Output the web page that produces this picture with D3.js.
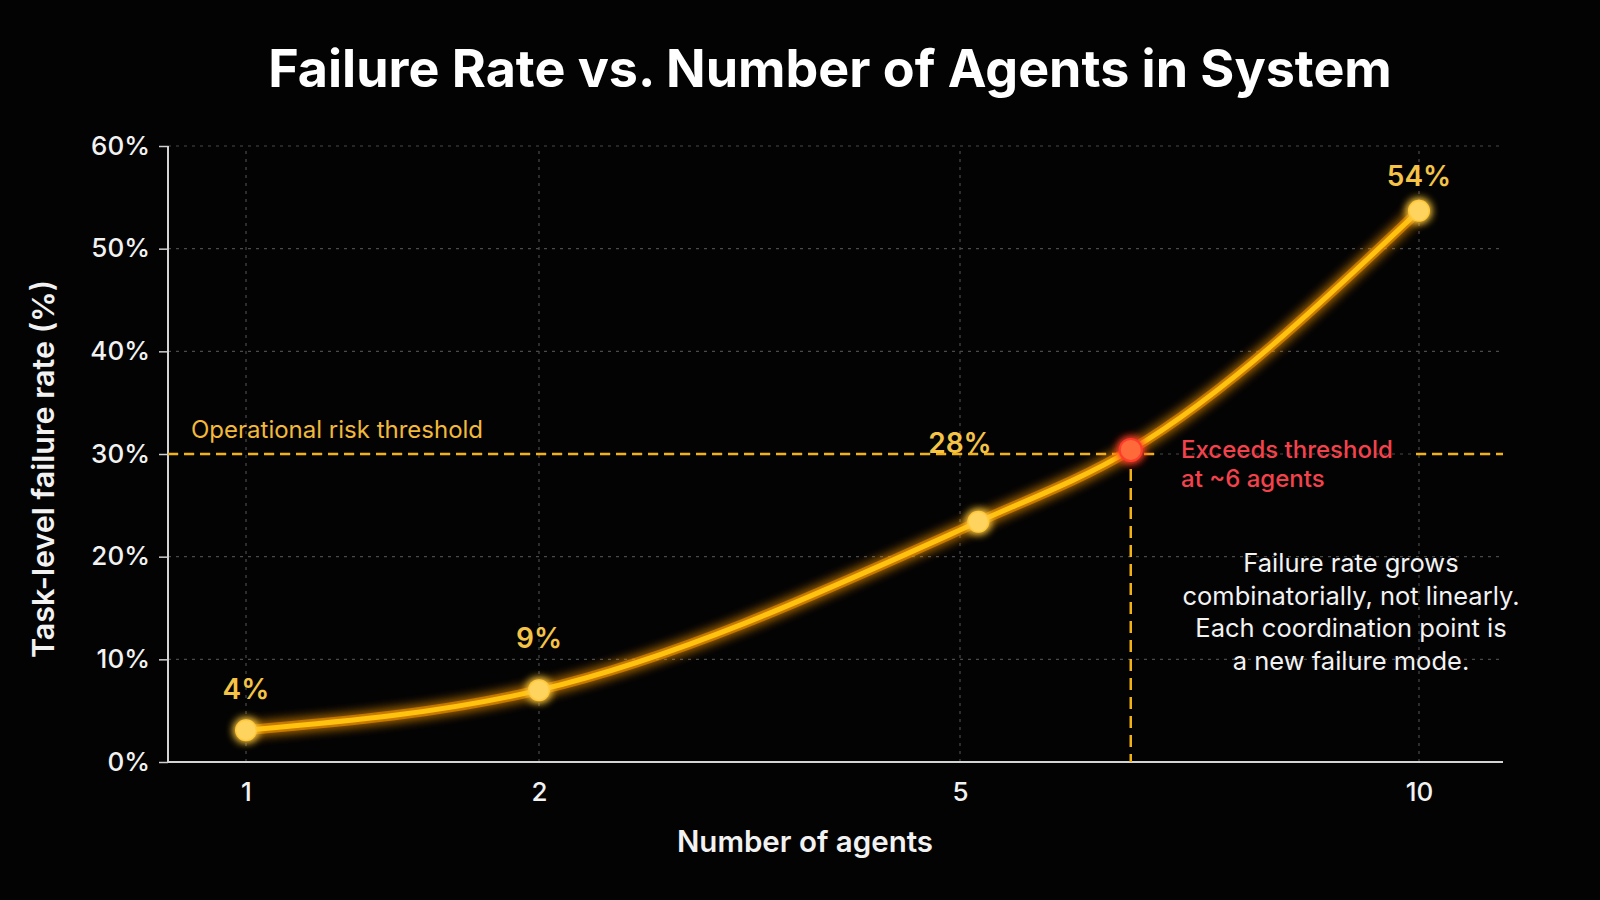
<!DOCTYPE html>
<html>
<head>
<meta charset="utf-8">
<script src="https://cdn.jsdelivr.net/npm/d3@7"></script>
<style>
  html, body { margin: 0; padding: 0; background: #030303; }
  svg { display: block; font-family: Inter, "Noto Sans", sans-serif; }
</style>
</head>
<body>
<svg id="chart" width="1600" height="900"></svg>
<script>
// data
let xTicks = [1, 2, 5, 10]
let yTicks = [0, 10, 20, 30, 40, 50, 60]
let agents = [1, 2, 5.2, 10]
let failRate = [3.1, 7.0, 23.4, 53.7]
let labelValues = [4, 9, 28, 54]
let threshold = 30
let crossAgents = 6.86
let crossRate = 30.4
let noteLines = ['Failure rate grows', 'combinatorially, not linearly.', 'Each coordination point is', 'a new failure mode.']
let crossLines = ['Exceeds threshold', 'at ~6 agents']

let margin = { left: 168, right: 97, top: 146, bottom: 138 }
let width = 1600, height = 900

let svg = d3.select('#chart')

svg.append('rect').attr('width', width).attr('height', height).attr('fill', '#030303')

let defs = svg.append('defs')
function glow(id, dev) {
    let f = defs.append('filter').attr('id', id)
        .attr('filterUnits', 'userSpaceOnUse')
        .attr('x', 0).attr('y', 0).attr('width', width).attr('height', height)
    f.append('feGaussianBlur').attr('in', 'SourceGraphic').attr('stdDeviation', dev).attr('result', 'b')
    let m = f.append('feMerge')
    m.append('feMergeNode').attr('in', 'b')
    m.append('feMergeNode').attr('in', 'b')
    m.append('feMergeNode').attr('in', 'SourceGraphic')
}
glow('glowLine', 6)
glow('glowDot', 5)

// x positions of 1, 2, 5, 10 are not on a plain linear or log scale in the source
let x = d3.scaleLinear().domain(xTicks).range([246, 539, 960, 1419])
let y = d3.scaleLinear().domain([0, 60]).range([height - margin.bottom, margin.top])
let x0 = margin.left, x1 = width - margin.right

// gridlines
let grid = svg.append('g')
grid.selectAll('.hg').data(yTicks.slice(1)).join('line')
    .attr('x1', x0).attr('x2', x1)
    .attr('y1', d => y(d)).attr('y2', d => y(d))
    .attr('stroke', '#4a4a4a').attr('stroke-width', 1.2).attr('stroke-dasharray', '3,5')
grid.selectAll('.vg').data(xTicks).join('line')
    .attr('x1', d => x(d)).attr('x2', d => x(d))
    .attr('y1', y(0)).attr('y2', y(60))
    .attr('stroke', '#4a4a4a').attr('stroke-width', 1.2).attr('stroke-dasharray', '3,5')

// axes
let yAxis = svg.append('g').attr('transform', `translate(${x0},0)`)
    .call(d3.axisLeft(y).tickValues(yTicks).tickSize(9).tickPadding(9).tickFormat(d => d + '%'))
yAxis.select('.domain').remove()
yAxis.selectAll('.tick line').attr('stroke', '#cfcfcf').attr('stroke-width', 1.5)
yAxis.selectAll('.tick text').attr('fill', '#f2f2f2').attr('font-size', 26).attr('font-weight', 500)
    .attr('font-family', 'Inter, sans-serif')

let xAxis = svg.append('g').attr('transform', `translate(0,${y(0)})`)
    .call(d3.axisBottom(x).tickValues(xTicks).tickSize(0).tickPadding(21).tickFormat(d3.format('d')))
xAxis.select('.domain').remove()
xAxis.selectAll('.tick text').attr('fill', '#f2f2f2').attr('font-size', 26).attr('font-weight', 500)
    .attr('font-family', 'Inter, sans-serif')

svg.append('line').attr('x1', x0).attr('x2', x0).attr('y1', y(60)).attr('y2', y(0))
    .attr('stroke', '#d4d4d4').attr('stroke-width', 2)
svg.append('line').attr('x1', x0).attr('x2', x1).attr('y1', y(0)).attr('y2', y(0))
    .attr('stroke', '#d4d4d4').attr('stroke-width', 2)

// threshold line, broken behind the annotation
let amber = '#f2b216'
svg.append('line').attr('x1', x0).attr('x2', 1160).attr('y1', y(threshold)).attr('y2', y(threshold))
    .attr('stroke', amber).attr('stroke-width', 2.5).attr('stroke-dasharray', '10,6')
svg.append('line').attr('x1', 1416).attr('x2', x1).attr('y1', y(threshold)).attr('y2', y(threshold))
    .attr('stroke', amber).attr('stroke-width', 2.5).attr('stroke-dasharray', '10,6')
svg.append('text').attr('x', 191).attr('y', y(threshold) - 16)
    .attr('fill', '#f2b93a').attr('font-size', 24).text('Operational risk threshold')

// drop line from crossing point
svg.append('line').attr('x1', x(crossAgents)).attr('x2', x(crossAgents))
    .attr('y1', y(crossRate)).attr('y2', y(0))
    .attr('stroke', amber).attr('stroke-width', 2.5).attr('stroke-dasharray', '12,7')

// curve
let pts = agents.map((a, i) => [a, failRate[i]])
pts.splice(3, 0, [crossAgents, crossRate])
let line = d3.line().x(d => x(d[0])).y(d => y(d[1])).curve(d3.curveMonotoneX)
svg.append('path').attr('d', line(pts)).attr('fill', 'none')
    .attr('stroke', '#ff9d00').attr('stroke-width', 10).attr('stroke-opacity', 0.55)
    .attr('filter', 'url(#glowLine)')
svg.append('path').attr('d', line(pts)).attr('fill', 'none')
    .attr('stroke', '#ffc20e').attr('stroke-width', 5).attr('stroke-linecap', 'round')

// dots
svg.selectAll('.dot').data(agents).join('circle')
    .attr('cx', d => x(d)).attr('cy', (d, i) => y(failRate[i])).attr('r', 11)
    .attr('fill', '#ffc93c').attr('filter', 'url(#glowDot)')
svg.selectAll('.dotc').data(agents).join('circle')
    .attr('cx', d => x(d)).attr('cy', (d, i) => y(failRate[i])).attr('r', 9.5)
    .attr('fill', '#ffd45e')

svg.append('circle').attr('cx', x(crossAgents)).attr('cy', y(crossRate)).attr('r', 12)
    .attr('fill', '#ff3b2a').attr('filter', 'url(#glowDot)')
svg.append('circle').attr('cx', x(crossAgents)).attr('cy', y(crossRate)).attr('r', 10)
    .attr('fill', '#ff6a3a')

// value labels sit at the stated value above each tick
svg.selectAll('.vlab').data(labelValues).join('text')
    .attr('x', (d, i) => x(xTicks[i])).attr('y', d => y(d) - 22)
    .attr('text-anchor', 'middle').attr('fill', '#f5c346')
    .attr('font-size', 28).attr('font-weight', 600)
    .text(d => d + '%')

// crossing annotation
svg.append('text').attr('x', 1181).attr('y', 0)
    .attr('fill', '#f4424c').attr('font-size', 24).attr('font-weight', 500)
    .selectAll('tspan').data(crossLines).join('tspan')
    .attr('x', 1181).attr('y', (d, i) => 458 + i * 29).text(d => d)

// note
svg.append('text').attr('text-anchor', 'middle')
    .attr('fill', '#f2f2f2').attr('font-size', 25.5)
    .selectAll('tspan').data(noteLines).join('tspan')
    .attr('x', 1351).attr('y', (d, i) => 572 + i * 32.7).text(d => d)

// titles
svg.append('text').attr('x', 830).attr('y', 87).attr('text-anchor', 'middle')
    .attr('fill', '#ffffff').attr('font-size', 52).attr('font-weight', 700)
    .text('Failure Rate vs. Number of Agents in System')

svg.append('text').attr('x', 805).attr('y', 852).attr('text-anchor', 'middle')
    .attr('fill', '#f2f2f2').attr('font-size', 29.5).attr('font-weight', 600)
    .text('Number of agents')

svg.append('text').attr('transform', 'translate(54,469) rotate(-90)').attr('text-anchor', 'middle')
    .attr('fill', '#f2f2f2').attr('font-size', 30.5).attr('font-weight', 600)
    .text('Task-level failure rate (%)')
</script>
</body>
</html>
